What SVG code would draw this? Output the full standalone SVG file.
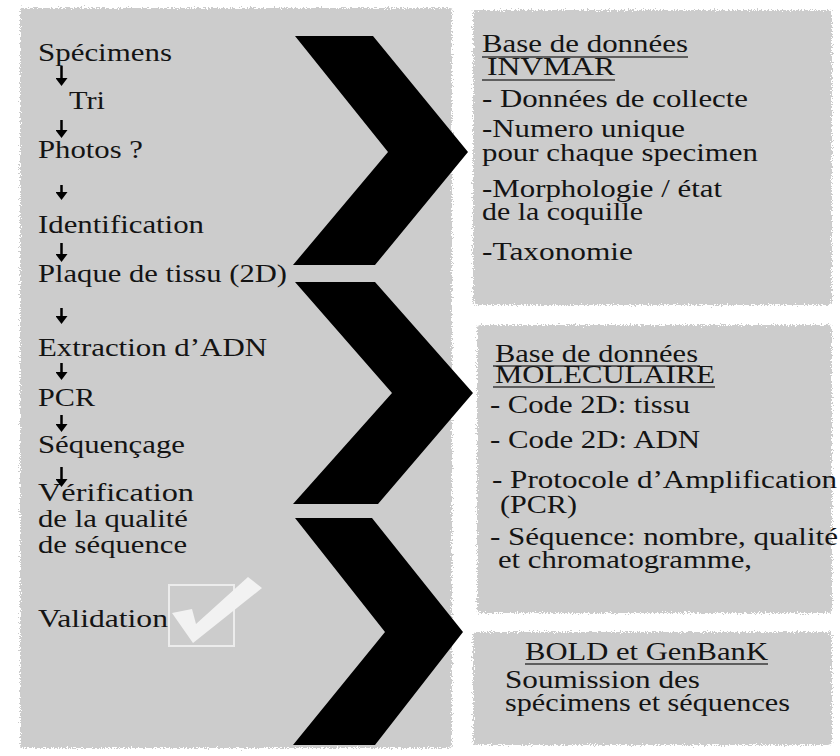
<svg xmlns="http://www.w3.org/2000/svg" width="840" height="756" viewBox="0 0 840 756">
<style>
text{font-family:"Liberation Serif","Times New Roman",serif;font-size:26px;fill:#141414}
.panel{fill:#cccccc;filter:url(#rough)}
.ul{stroke:#3a3a3a;stroke-width:1.6}
.step{stroke:#000;stroke-width:2.5;fill:none;marker-end:url(#ah)}
.chev{fill:#000}
</style>
<defs>
<filter id="rough" x="-3%" y="-3%" width="106%" height="106%">
<feTurbulence type="fractalNoise" baseFrequency="0.7" numOctaves="3" seed="4"/>
<feDisplacementMap in="SourceGraphic" scale="7" xChannelSelector="R" yChannelSelector="G"/>
</filter>
<marker id="ah" markerUnits="userSpaceOnUse" viewBox="0 0 8 12" markerWidth="8" markerHeight="12" refX="0" refY="6" orient="auto">
<path d="M0,0 L8,6 L0,12 z" fill="#000"/>
</marker>
</defs>
<rect width="840" height="756" fill="#fff"/>

<g id="workflow">
<rect class="panel" x="20" y="8" width="432" height="740" rx="3"/>
<text x="38" y="61" textLength="134" lengthAdjust="spacingAndGlyphs">Spécimens</text>
<text x="69" y="109" textLength="36" lengthAdjust="spacingAndGlyphs">Tri</text>
<text x="38" y="158" textLength="105" lengthAdjust="spacingAndGlyphs">Photos ?</text>
<text x="38" y="233" textLength="166" lengthAdjust="spacingAndGlyphs">Identification</text>
<text x="38" y="282" textLength="249" lengthAdjust="spacingAndGlyphs">Plaque de tissu (2D)</text>
<text x="38" y="356" textLength="229" lengthAdjust="spacingAndGlyphs">Extraction d’ADN</text>
<text x="38" y="406" textLength="57" lengthAdjust="spacingAndGlyphs">PCR</text>
<text x="38" y="453" textLength="147" lengthAdjust="spacingAndGlyphs">Séquençage</text>
<text x="38" y="501" textLength="156" lengthAdjust="spacingAndGlyphs">Vérification</text>
<text x="38" y="527" textLength="150" lengthAdjust="spacingAndGlyphs">de la qualité</text>
<text x="38" y="553" textLength="149" lengthAdjust="spacingAndGlyphs">de séquence</text>
<text x="38" y="627" textLength="130" lengthAdjust="spacingAndGlyphs">Validation</text>
<rect x="169" y="585" width="65" height="61" fill="none" stroke="#ececec" stroke-width="2"/>
<polygon points="172,613 192,609 196,624 248,577 262,588 193,643" fill="#f2f2f2"/>
</g>

<g id="invmar">
<rect class="panel" x="473" y="10" width="359" height="295" rx="4"/>
<text x="482" y="52" textLength="206" lengthAdjust="spacingAndGlyphs">Base de données</text>
<line class="ul" x1="482" y1="57" x2="688" y2="57"/>
<text x="487" y="75" textLength="128" lengthAdjust="spacingAndGlyphs">INVMAR</text>
<line class="ul" x1="482" y1="80" x2="615" y2="80"/>
<text x="482" y="107" textLength="266" lengthAdjust="spacingAndGlyphs">- Données de collecte</text>
<text x="482" y="137" textLength="203" lengthAdjust="spacingAndGlyphs">-Numero unique</text>
<text x="482" y="161" textLength="276" lengthAdjust="spacingAndGlyphs">pour chaque specimen</text>
<text x="482" y="197" textLength="240" lengthAdjust="spacingAndGlyphs">-Morphologie / état</text>
<text x="482" y="220" textLength="161" lengthAdjust="spacingAndGlyphs">de la coquille</text>
<text x="482" y="260" textLength="151" lengthAdjust="spacingAndGlyphs">-Taxonomie</text>
</g>

<g id="moleculaire">
<rect class="panel" x="477" y="325" width="355" height="288" rx="4"/>
<text x="495" y="362" textLength="203" lengthAdjust="spacingAndGlyphs">Base de données</text>
<line class="ul" x1="493" y1="366" x2="700" y2="366"/>
<text x="495" y="383" textLength="220" lengthAdjust="spacingAndGlyphs">MOLECULAIRE</text>
<line class="ul" x1="493" y1="387" x2="715" y2="387"/>
<text x="490" y="413" textLength="200" lengthAdjust="spacingAndGlyphs">- Code 2D: tissu</text>
<text x="490" y="448" textLength="210" lengthAdjust="spacingAndGlyphs">- Code 2D: ADN</text>
<text x="492" y="488" textLength="345" lengthAdjust="spacingAndGlyphs">- Protocole d’Amplification</text>
<text x="500" y="513" textLength="77" lengthAdjust="spacingAndGlyphs">(PCR)</text>
<text x="490" y="545" textLength="348" lengthAdjust="spacingAndGlyphs">- Séquence: nombre, qualité</text>
<text x="498" y="568" textLength="254" lengthAdjust="spacingAndGlyphs">et chromatogramme,</text>
</g>

<g id="bold">
<rect class="panel" x="473" y="632" width="359" height="113" rx="4"/>
<text x="525" y="660" textLength="243" lengthAdjust="spacingAndGlyphs">BOLD et GenBanK</text>
<line class="ul" x1="525" y1="664" x2="768" y2="664"/>
<text x="505" y="688" textLength="195" lengthAdjust="spacingAndGlyphs">Soumission des</text>
<text x="505" y="711" textLength="285" lengthAdjust="spacingAndGlyphs">spécimens et séquences</text>
</g>

<g id="connectors">
<path class="step" d="M61.5,66 V78"/>
<path class="step" d="M61.5,120 V130"/>
<path class="step" d="M61.5,185 V192"/>
<path class="step" d="M61.5,243 V254"/>
<path class="step" d="M61.5,308 V316"/>
<path class="step" d="M61.5,363 V372"/>
<path class="step" d="M61.5,415 V424"/>
<path class="step" d="M61.5,467 V479"/>
<polygon class="chev" points="295,36 373,36 468,152 375,265 293,265 388,152"/>
<polygon class="chev" points="295,282 375,282 473,393 378,504 293,504 392,393"/>
<polygon class="chev" points="295,518 372,518 463,632 375,745 293,745 385,632"/>
</g>
</svg>
